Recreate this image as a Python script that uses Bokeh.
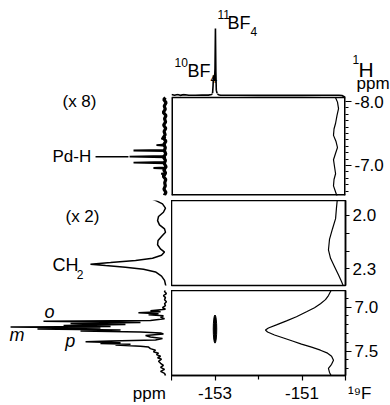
from bokeh.plotting import figure
from bokeh.layouts import column, row
from bokeh.models import Range1d, FixedTicker, Label, PrintfTickFormatter, LinearAxis
from bokeh.embed import file_html
from bokeh.resources import INLINE

FONT = "Liberation Sans"
INK = "black"

# ---------------- data ----------------
# 19F projection on top (ppm, relative intensity)
f19_ppm = [-154.0, -153.93, -153.86, -153.8, -153.72, -153.6, -153.45, -153.3, -153.15, -153.08,
           -153.055, -153.045, -153.035, -153.025, -153.012, -153.0, -152.99, -152.98, -152.97,
           -152.955, -152.94, -152.92, -152.88, -152.8, -152.5, -152.0, -151.5, -151.0, -150.5,
           -150.15, -150.08, -150.04, -150.0]
f19_int = [1.5, 0.3, 1.6, 0.2, 1.3, 0.4, 0.3, 0.5, 0.6, 1.5,
           4.0, 14.0, 30.0, 26.0, 22.0, 40.0, 100.0, 35.0, 8.0,
           4.0, 2.5, 1.0, 0.6, 0.4, 0.3, 0.2, 0.3, 0.2, 0.3,
           0.4, 0.0, -1.5, -3.0]

# 1H projection, hydride region (x 8): noise band and Pd-H multiplet
hyd_noise_ppm = [-8.06, -8.03, -7.98, -7.93, -7.88, -7.83, -7.78, -7.73, -7.68, -7.63, -7.58, -7.53,
                 -7.48, -7.43, -7.38, -7.33, -7.28, -7.23, -7.18, -7.13, -7.08, -7.03, -6.98, -6.93,
                 -6.88, -6.83, -6.78, -6.73, -6.68, -6.63, -6.58, -6.53]
hyd_noise_int = [0.8, 1.9, 0.4, 1.6, 0.9, 2.2, 0.5, 1.4, 0.7, 2.0, 0.6, 1.7,
                 1.0, 2.3, 0.5, 1.8, 0.9, 1.5, 0.6, 2.1, 0.8, 1.6, 0.4, 1.9,
                 0.7, 2.2, 0.6, 1.3, 0.9, 1.8, 0.5, 1.5]
hyd_peak_ppm = [-7.45, -7.43, -7.42, -7.41, -7.33, -7.319, -7.308, -7.245, -7.234, -7.223,
                -7.15, -7.139, -7.128, -7.056, -7.045, -7.034, -6.971, -6.96, -6.949,
                -6.88, -6.87, -6.86, -6.84]
hyd_peak_int = [1.0, 1.0, 3.5, 1.0, 1.0, 6.5, 1.0, 1.0, 21.0, 1.0,
                1.0, 23.5, 1.0, 1.0, 21.0, 1.0, 1.0, 8.4, 1.0,
                1.0, 3.5, 1.0, 1.0]

# 1H projection, CH2 region (x 2)
ch2_ppm = [1.900, 1.918, 1.935, 1.959, 1.982, 2.006, 2.029, 2.053, 2.076, 2.094, 2.118, 2.141,
           2.165, 2.188, 2.206, 2.224, 2.241, 2.253, 2.265, 2.274, 2.282, 2.291, 2.303, 2.318,
           2.341, 2.365, 2.400]
ch2_int = [11.5, 6.5, 2.7, 0.8, 2.1, 5.2, 5.8, 4.6, 1.4, 0.8, 3.3, 5.5,
           5.8, 4.0, 1.4, 3.3, 9.0, 19.7, 35.5, 48.2, 38.7, 26.1, 14.7, 7.1,
           3.3, 1.4, 0.5]

# 1H projection, aromatic region (o, m, p)
aro_ppm = [6.789, 6.823, 6.846, 6.869, 6.892, 6.915, 6.938, 6.961, 6.984, 7.007, 7.024, 7.041,
           7.053, 7.064, 7.076, 7.087, 7.099, 7.116, 7.133, 7.151, 7.162, 7.174, 7.186, 7.197,
           7.208, 7.220, 7.225, 7.237, 7.248, 7.260, 7.271, 7.283, 7.294, 7.306, 7.323, 7.340,
           7.357, 7.375, 7.386, 7.395, 7.405, 7.414, 7.423, 7.432, 7.444, 7.455, 7.472, 7.490,
           7.507, 7.524, 7.541, 7.559, 7.576, 7.593, 7.616, 7.639, 7.662, 7.685, 7.708, 7.731,
           7.754, 7.777, 7.800]
aro_int = [0.8, 1.4, 0.2, 2.1, 0.8, 1.4, 0.2, 1.4, 0.8, 2.7, 0.8, 10.3,
           3.9, 17.9, 5.2, 11.5, 2.1, 3.9, 1.4, 10.3, 77.9, 16.6, 60.8, 26.1,
           65.2, 35.5, 98.7, 41.9, 81.7, 29.2, 54.5, 16.6, 3.9, 2.1, 13.4, 10.3,
           2.7, 7.1, 35.5, 51.3, 29.2, 41.9, 22.9, 32.4, 16.6, 11.5, 10.3, 7.1,
           8.4, 5.2, 6.5, 3.9, 5.8, 3.3, 5.2, 3.9, 2.1, 3.9, 1.4, 3.9,
           1.4, 0.8, 2.1]

# 1H traces drawn inside the panels (at the 19F column)
col_top_ppm = [-8.06, -7.99, -7.89, -7.78, -7.66, -7.57, -7.47, -7.38, -7.28, -7.19, -7.09,
               -6.98, -6.87, -6.78, -6.68, -6.57, -6.45]
col_top_int = [5.7, 4.6, 4.0, 4.9, 5.7, 6.6, 6.9, 5.5, 4.6, 5.7, 6.9,
               6.3, 5.7, 6.6, 6.9, 5.5, 4.0]
col_mid_ppm = [1.900, 1.959, 2.018, 2.076, 2.135, 2.194, 2.241, 2.288, 2.335, 2.371, 2.400]
col_mid_int = [4.6, 5.2, 5.7, 7.5, 9.2, 9.8, 8.6, 6.3, 4.0, 2.3, 1.1]
col_bot_ppm = [6.800, 6.869, 6.915, 6.961, 7.007, 7.053, 7.110, 7.156, 7.202, 7.237, 7.260,
               7.283, 7.317, 7.352, 7.386, 7.421, 7.455, 7.490, 7.524, 7.559, 7.605, 7.651,
               7.697, 7.743, 7.789]
col_bot_int = [8.0, 9.8, 11.5, 14.4, 17.8, 22.4, 28.2, 33.9, 39.7, 44.3, 46.0,
               44.8, 40.8, 35.6, 30.5, 25.3, 19.5, 14.4, 10.3, 8.0, 6.9, 8.0,
               9.8, 9.2, 8.0]

# 2D cross peak (19F ppm, 1H ppm, extents)
xpk_f = [-153.0]
xpk_h = [7.25]
xpk_df = [0.08]
xpk_dh = [0.32]

# axes
F_LIM = (-154.0, -150.0)
H_TOP = (-8.0625, -6.53)
H_MID = (1.916, 2.394)
H_BOT = (6.811, 7.778)
top_major = [-8.0, -7.0]
top_minor = [-7.9, -7.8, -7.7, -7.6, -7.5, -7.4, -7.3, -7.2, -7.1, -6.9, -6.8, -6.7, -6.6]
mid_major = [2.0, 2.3]
mid_minor = [2.1, 2.2]
bot_major = [7.0, 7.5]
bot_minor = [6.9, 7.1, 7.2, 7.3, 7.4, 7.6, 7.7]
f_major = [-154, -153, -151, -150]
f_minor = [-152]
f_labels = {-154: "", -150: "\u00a0" * 6 + "\u00b9\u2079F"}
h_unit_tick = 11      # position (intensity units) of the "ppm" unit under the 1H projections

# ---------------- geometry ----------------
LEFT_W = 171
PANEL_W = 219
AXIS_W = 45
STRIP_H = 93          # height of the strip above panel 1
BOX_OFF = 4           # panel 1 box starts this far below the strip
GAP = 5
H1, H2, H3 = 98, 85, 87
BOTTOM_B = 28
F19_PX = 67.0         # pixels for 100 % of the 19F projection
F19_BASE_Y = 95.0     # y (px from top) of the 19F baseline
PX_PER_F = (PANEL_W - AXIS_W) / (F_LIM[1] - F_LIM[0])

common = dict(output_backend="svg", toolbar_location=None)


def add_label(fig, x, y, text, size="17px", align="left", style="normal",
              baseline="middle", **kw):
    fig.add_layout(Label(x=x, y=y, text=text, text_align=align, text_baseline=baseline,
                         text_font=FONT, text_font_size=size, text_color=INK,
                         text_font_style=style, **kw))


def style_axis(ax, tick_major, tick_minor, fmt):
    ax.formatter = PrintfTickFormatter(format=fmt)
    ax.major_tick_in = 0
    ax.major_tick_out = tick_major
    ax.minor_tick_in = 0
    ax.minor_tick_out = tick_minor
    ax.axis_line_width = 1.5
    ax.major_tick_line_width = 1.2
    ax.minor_tick_line_width = 1.0
    ax.major_label_standoff = 3
    ax.major_label_text_font = FONT
    ax.major_label_text_font_size = "17px"
    ax.major_label_text_color = INK


f_range = Range1d(*F_LIM)
left_range = Range1d(105.06, -3.0)

# ---------------- top strip: 19F projection and labels ----------------
top = figure(width=LEFT_W + PANEL_W, height=STRIP_H,
             x_range=Range1d(F_LIM[0] - LEFT_W / PX_PER_F, F_LIM[1] + AXIS_W / PX_PER_F),
             y_range=Range1d(-(STRIP_H - F19_BASE_Y) / F19_PX * 100.0, F19_BASE_Y / F19_PX * 100.0),
             x_axis_location=None, y_axis_location=None,
             min_border_left=0, min_border_right=0, min_border_top=0, min_border_bottom=0, **common)
top.outline_line_color = None
top.grid.visible = False
top.line(f19_ppm, f19_int, line_color=INK, line_width=1.6)

add_label(top, -152.943, 120.9, "11", "12px")
add_label(top, -152.713, 107.5, "BF", "18px")
add_label(top, -152.184, 95.5, "4", "12px")
add_label(top, -153.931, 49.3, "10", "12px")
add_label(top, -153.632, 37.3, "BF", "18px")
add_label(top, -153.103, 25.4, "4", "12px")
add_label(top, -149.839, 53.7, "1", "12px")
add_label(top, -149.701, 38.8, "H", "21px")
add_label(top, -149.747, 18.5, "ppm", "17px")

# ---------------- panel 1 ----------------
px_per_h1 = H1 / (H_TOP[1] - H_TOP[0])
y1_range = Range1d(H_TOP[1], H_TOP[0] - BOX_OFF / px_per_h1)
p1 = figure(width=PANEL_W, height=BOX_OFF + H1 + GAP, x_range=f_range, y_range=y1_range,
            x_axis_location=None, y_axis_location="right",
            min_border_left=0, min_border_right=AXIS_W, min_border_top=0,
            min_border_bottom=GAP, **common)
p1.extra_y_ranges = {"f19": Range1d(-(STRIP_H + BOX_OFF + H1 - F19_BASE_Y) / F19_PX * 100.0,
                                    -(STRIP_H - F19_BASE_Y) / F19_PX * 100.0)}
p1.extra_x_ranges = {"proj": Range1d(100, 0)}
p1.grid.visible = False
p1.outline_line_color = None
ax1 = p1.yaxis[0]
ax1.ticker = FixedTicker(ticks=top_major, minor_ticks=top_minor)
style_axis(ax1, 6, 3, "%.1f")
ax1.axis_line_color = None
# panel box (edges lying on the frame border are drawn wider: half is clipped)
p1.line([F_LIM[0], F_LIM[1]], [H_TOP[0], H_TOP[0]], line_color=INK, line_width=1.5)
p1.line([F_LIM[0], F_LIM[1]], [H_TOP[1], H_TOP[1]], line_color=INK, line_width=3)
p1.line([F_LIM[0], F_LIM[0]], [H_TOP[0], H_TOP[1]], line_color=INK, line_width=3)
p1.line([F_LIM[1], F_LIM[1]], [H_TOP[0], H_TOP[1]], line_color=INK, line_width=3)
# lower end of the 19F projection (continues the strip above)
p1.line(f19_ppm, f19_int, y_range_name="f19", line_color=INK, line_width=1.6)
p1.line(col_top_int, col_top_ppm, x_range_name="proj", line_color=INK, line_width=1.2)


# ---------------- panels 2 and 3 ----------------
def make_panel(lim, frame_h, border_b, major, minor, tick_major, tick_minor, show_x):
    p = figure(width=PANEL_W, height=frame_h + border_b, x_range=f_range,
               y_range=Range1d(lim[1], lim[0]),
               x_axis_location="below" if show_x else None, y_axis_location="right",
               min_border_left=0, min_border_right=AXIS_W, min_border_top=0,
               min_border_bottom=border_b, **common)
    p.extra_x_ranges = {"proj": Range1d(100, 0)}
    p.grid.visible = False
    p.outline_line_color = INK
    p.outline_line_width = 1.5
    ax = p.yaxis[0]
    ax.ticker = FixedTicker(ticks=major, minor_ticks=minor)
    style_axis(ax, tick_major, tick_minor, "%.1f")
    if show_x:
        xa = p.xaxis[0]
        xa.ticker = FixedTicker(ticks=f_major, minor_ticks=f_minor)
        style_axis(xa, 5, 4, "%d")
        xa.minor_tick_line_width = 1.2
        xa.major_label_overrides = f_labels
    return p


def make_left(yr, frame_h, border_b):
    q = figure(width=LEFT_W, height=frame_h + border_b, x_range=left_range, y_range=yr,
               x_axis_location=None, y_axis_location=None,
               min_border_left=0, min_border_right=0, min_border_top=0,
               min_border_bottom=border_b, **common)
    q.outline_line_color = None
    q.grid.visible = False
    return q


p2 = make_panel(H_MID, H2, GAP, mid_major, mid_minor, 4, 4, False)
p3 = make_panel(H_BOT, H3, BOTTOM_B, bot_major, bot_minor, 6, 3, True)

p2.line(col_mid_int, col_mid_ppm, x_range_name="proj", line_color=INK, line_width=1.2)
p3.line(col_bot_int, col_bot_ppm, x_range_name="proj", line_color=INK, line_width=1.2)
p3.ellipse(x=xpk_f, y=xpk_h, width=xpk_df, height=xpk_dh, fill_color=INK, line_color=INK)

# ---------------- left 1H projections ----------------
l1 = make_left(y1_range, BOX_OFF + H1, GAP)
l2 = make_left(p2.y_range, H2, GAP)
l3 = make_left(p3.y_range, H3, BOTTOM_B)

l1.line(hyd_noise_int, hyd_noise_ppm, line_color=INK, line_width=3.2)
l1.line(hyd_peak_int, hyd_peak_ppm, line_color=INK, line_width=1.8)
l1.line([45.0, 24.2], [-7.135, -7.135], line_color=INK, line_width=1.5)
add_label(l1, 65.9, -8.0, "(x 8)")
add_label(l1, 72.2, -7.135, "Pd-H")

l2.line(ch2_int, ch2_ppm, line_color=INK, line_width=1.5)
add_label(l2, 64.0, 2.006, "(x 2)")
add_label(l2, 72.2, 2.276, "CH", "18px")
add_label(l2, 56.9, 2.33, "2", "12px")

l3.line(aro_int, aro_ppm, line_color=INK, line_width=1.5)
add_label(l3, 77.3, 7.055, "o", "18px", style="italic")
add_label(l3, 99.4, 7.322, "m", "18px", style="italic")
add_label(l3, 64.2, 7.389, "p", "18px", style="italic")

unit_axis = LinearAxis(ticker=FixedTicker(ticks=[h_unit_tick], minor_ticks=[]),
                       major_label_overrides={h_unit_tick: "ppm"})
style_axis(unit_axis, 5, 0, "%d")
unit_axis.axis_line_color = None
unit_axis.major_tick_line_color = None
unit_axis.minor_tick_line_color = None
l3.add_layout(unit_axis, "below")

layout = column(top, row(l1, p1), row(l2, p2), row(l3, p3))

open("out.html", "w").write(file_html(layout, INLINE, title="HOESY"))
